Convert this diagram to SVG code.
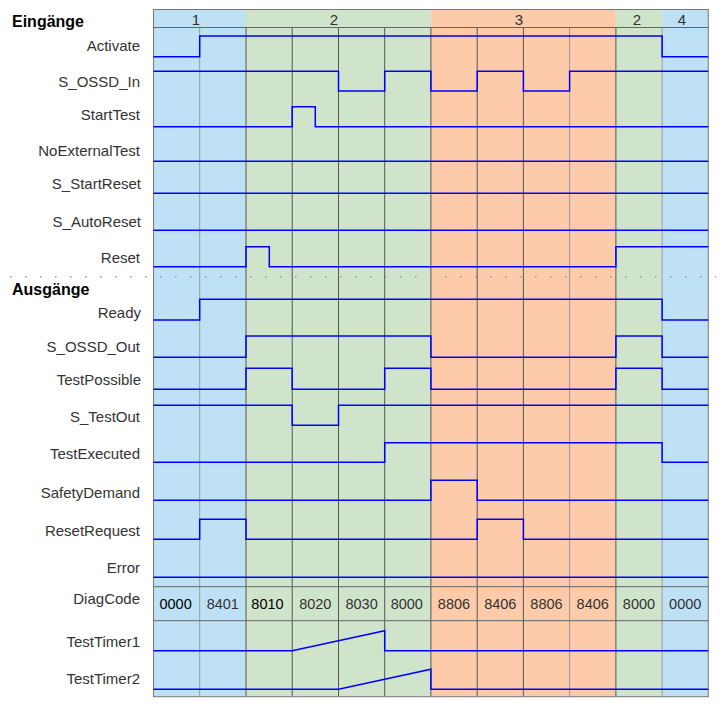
<svg xmlns="http://www.w3.org/2000/svg" width="725" height="707" viewBox="0 0 725 707">
<style>
.lbl{font-family:"Liberation Sans",Arial,sans-serif;font-size:15px;fill:#333;text-anchor:end}
.hdr{font-family:"Liberation Sans",Arial,sans-serif;font-size:15px;fill:#333;text-anchor:middle}
.val{font-family:"Liberation Sans",Arial,sans-serif;font-size:14.5px;fill:#333;text-anchor:middle}
.sec{font-family:"Liberation Sans",Arial,sans-serif;font-size:16px;font-weight:bold;fill:#000}
.sig{fill:none;stroke:#0000ff;stroke-width:1.5}
.vd{stroke:#555;stroke-width:1}
.vl{stroke:#999;stroke-width:1}
.hl{stroke:#666;stroke-width:1}
</style>
<rect width="725" height="707" fill="#fff"/>
<g id="background">
<rect x="153.5" y="9.5" width="92.5" height="687.2" fill="#bee1f6"/>
<rect x="246" y="9.5" width="184.9" height="687.2" fill="#d0e4cc"/>
<rect x="430.9" y="9.5" width="185" height="687.2" fill="#fdcbaa"/>
<rect x="615.9" y="9.5" width="46.2" height="687.2" fill="#d0e4cc"/>
<rect x="662.1" y="9.5" width="46.2" height="687.2" fill="#bee1f6"/>
</g>
<g id="grid">
<line class="vl" x1="199.7" y1="27.5" x2="199.7" y2="696.7"/>
<line class="vd" x1="246" y1="27.5" x2="246" y2="696.7"/>
<line class="vd" x1="292.2" y1="27.5" x2="292.2" y2="696.7"/>
<line class="vd" x1="338.5" y1="27.5" x2="338.5" y2="696.7"/>
<line class="vd" x1="384.7" y1="27.5" x2="384.7" y2="696.7"/>
<line class="vd" x1="430.9" y1="27.5" x2="430.9" y2="696.7"/>
<line class="vd" x1="477.2" y1="27.5" x2="477.2" y2="696.7"/>
<line class="vd" x1="523.4" y1="27.5" x2="523.4" y2="696.7"/>
<line class="vl" x1="569.6" y1="27.5" x2="569.6" y2="696.7"/>
<line class="vd" x1="615.9" y1="27.5" x2="615.9" y2="696.7"/>
<line class="vl" x1="662.1" y1="27.5" x2="662.1" y2="696.7"/>
<line class="hl" x1="153.5" y1="27.5" x2="708.3" y2="27.5"/>
<line class="hl" x1="153.5" y1="586.7" x2="708.3" y2="586.7"/>
<line class="hl" x1="153.5" y1="620.7" x2="708.3" y2="620.7"/>
<rect x="153.5" y="9.5" width="554.8" height="687.2" fill="none" stroke="#777" stroke-width="1"/>
<line x1="10" y1="276.7" x2="716" y2="276.7" stroke="#999" stroke-width="1.5" stroke-dasharray="1.5 13.5"/>
</g>
<g id="phases">
<text class="hdr" x="196" y="25">1</text>
<text class="hdr" x="334" y="25">2</text>
<text class="hdr" x="519" y="25">3</text>
<text class="hdr" x="637" y="25">2</text>
<text class="hdr" x="682" y="25">4</text>
</g>
<g id="labels">
<text class="sec" x="12" y="27">Eingänge</text>
<text class="lbl" x="140" y="50.5">Activate</text>
<text class="lbl" x="140" y="86.5">S_OSSD_In</text>
<text class="lbl" x="140" y="120">StartTest</text>
<text class="lbl" x="140" y="155.5">NoExternalTest</text>
<text class="lbl" x="141" y="189">S_StartReset</text>
<text class="lbl" x="141" y="227">S_AutoReset</text>
<text class="lbl" x="140" y="262.5">Reset</text>
<text class="sec" x="12" y="295">Ausgänge</text>
<text class="lbl" x="141" y="318">Ready</text>
<text class="lbl" x="140" y="351.5">S_OSSD_Out</text>
<text class="lbl" x="141" y="385">TestPossible</text>
<text class="lbl" x="140" y="421.5">S_TestOut</text>
<text class="lbl" x="140" y="459">TestExecuted</text>
<text class="lbl" x="140" y="497.5">SafetyDemand</text>
<text class="lbl" x="140" y="536">ResetRequest</text>
<text class="lbl" x="140" y="573">Error</text>
<text class="lbl" x="140" y="604">DiagCode</text>
<text class="lbl" x="140" y="647">TestTimer1</text>
<text class="lbl" x="140" y="684">TestTimer2</text>
</g>
<g id="diagcode">
<text class="val" x="175.6" y="609" fill="#000" style="fill:#000">0000</text>
<text class="val" x="222.8" y="609">8401</text>
<text class="val" x="267.5" y="609" style="fill:#000">8010</text>
<text class="val" x="315.3" y="609">8020</text>
<text class="val" x="361.6" y="609">8030</text>
<text class="val" x="406.8" y="609">8000</text>
<text class="val" x="454" y="609">8806</text>
<text class="val" x="500.3" y="609">8406</text>
<text class="val" x="546.5" y="609">8806</text>
<text class="val" x="592.7" y="609">8406</text>
<text class="val" x="639" y="609">8000</text>
<text class="val" x="685.2" y="609">0000</text>
</g>
<g id="signals">
<path id="Activate" class="sig" d="M153.5,56.7 H199.7 V36 H662.1 V56.7 H708.3"/>
<path id="S_OSSD_In" class="sig" d="M153.5,71.3 H338.5 V91 H384.7 V71.3 H430.9 V91 H477.2 V71.3 H523.4 V91 H569.6 V71.3 H708.3"/>
<path id="StartTest" class="sig" d="M153.5,126.7 H292.2 V106.7 H315.3 V126.7 H708.3"/>
<path id="NoExternalTest" class="sig" d="M153.5,161.3 H708.3"/>
<path id="S_StartReset" class="sig" d="M153.5,193.3 H708.3"/>
<path id="S_AutoReset" class="sig" d="M153.5,230.3 H708.3"/>
<path id="Reset" class="sig" d="M153.5,266.7 H246 V246.7 H269.3 V266.7 H615.9 V246.7 H708.3"/>
<path id="Ready" class="sig" d="M153.5,320 H199.7 V299.3 H662.1 V320 H708.3"/>
<path id="S_OSSD_Out" class="sig" d="M153.5,357.3 H246 V336 H430.9 V357.3 H615.9 V336 H662.1 V357.3 H708.3"/>
<path id="TestPossible" class="sig" d="M153.5,389.3 H246 V368.3 H292.2 V389.3 H384.7 V368.3 H430.9 V389.3 H615.9 V368.3 H662.1 V389.3 H708.3"/>
<path id="S_TestOut" class="sig" d="M153.5,405.3 H292.2 V425.3 H338.5 V405.3 H708.3"/>
<path id="TestExecuted" class="sig" d="M153.5,462.3 H384.7 V442.7 H662.1 V462.3 H708.3"/>
<path id="SafetyDemand" class="sig" d="M153.5,500.3 H430.9 V480.3 H477.2 V500.3 H708.3"/>
<path id="ResetRequest" class="sig" d="M153.5,539.3 H199.7 V519.3 H246 V539.3 H477.2 V519.3 H523.4 V539.3 H708.3"/>
<path id="Error" class="sig" d="M153.5,577.3 H708.3"/>
<path id="TestTimer1" class="sig" d="M153.5,650.7 H292.2 L384.7,630.7 V650.7 H708.3"/>
<path id="TestTimer2" class="sig" d="M153.5,689.3 H338.5 L430.9,669.3 V689.3 H708.3"/>
</g>
</svg>
